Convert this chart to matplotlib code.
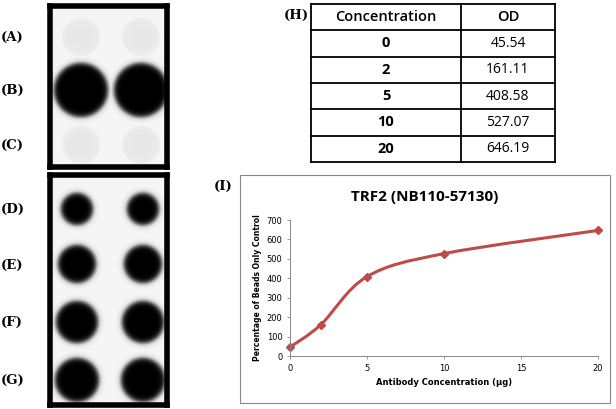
import numpy as np
import matplotlib.pyplot as plt
from matplotlib.path import Path
from matplotlib.patches import PathPatch

# dot blot: row labels, dot radius (px) and darkness
row_labels = ['(A)', '(B)', '(C)', '(D)', '(E)', '(F)', '(G)']
dot_radius = [20, 27, 20, 16, 19, 21, 22]
dot_dark = [0.09, 1.0, 0.09, 1.0, 1.0, 1.0, 1.0]

# table / chart data
concentration = [0, 2, 5, 10, 20]
od = [45.54, 161.11, 408.58, 527.07, 646.19]

W, H = 616, 409
fig = plt.figure(figsize=(W / 100, H / 100), dpi=100)
fig.patch.set_facecolor('white')

def px_axes(x0, y0, x1, y1):
    return fig.add_axes([x0 / W, 1 - y1 / H, (x1 - x0) / W, (y1 - y0) / H])

# ---- blot panels
def blot(x0, y0, x1, y1, rows_y, rows_idx, xs):
    ax = px_axes(x0, y0, x1, y1)
    w, h = x1 - x0, y1 - y0
    yy, xx = np.mgrid[0:h, 0:w] + 0.5
    img = np.full((h, w), 0.04)
    for ry, i in zip(rows_y, rows_idx):
        for cx in xs:
            d = np.hypot(xx - (cx - x0), yy - (ry - y0))
            v = dot_dark[i] / (1 + np.exp((d - dot_radius[i]) / 1.5))
            halo = 0.25 * dot_dark[i] * np.exp(-np.clip(d - dot_radius[i], 0, None) / 4)
            img = np.maximum(img, np.maximum(v, halo))
    ax.imshow(img, cmap='gray_r', vmin=0, vmax=1, interpolation='bilinear')
    ax.set_xticks([]); ax.set_yticks([])
    for s in ax.spines.values():
        s.set_linewidth(4); s.set_color('black')

blot(50, 6, 167, 167, [37, 90, 145], [0, 1, 2], [81, 141])
blot(50, 175, 167, 405, [209, 264, 322, 380], [3, 4, 5, 6], [77, 143])

label_y = [37, 90, 145, 209, 265, 322, 380]
for lab, y in zip(row_labels, label_y):
    fig.text(1 / W, 1 - y / H, lab, family='DejaVu Serif', weight='bold',
             fontsize=9.5, va='center', ha='left')

# ---- table
fig.text(284 / W, 1 - 15 / H, '(H)', family='DejaVu Serif', weight='bold',
         fontsize=9.5, va='center')
tx0, tx1, tmid, ty0, rh = 311, 555, 461, 4, 26.3
ax = px_axes(0, 0, W, H)
ax.set_xlim(0, W); ax.set_ylim(H, 0); ax.axis('off')
nrows = len(concentration) + 1
for r in range(nrows + 1):
    ax.plot([tx0, tx1], [ty0 + r * rh] * 2, color='black', lw=1.3)
for x in (tx0, tmid, tx1):
    ax.plot([x, x], [ty0, ty0 + nrows * rh], color='black', lw=1.3)
ax.text((tx0 + tmid) / 2, ty0 + rh / 2, 'Concentration', ha='center',
        va='center', fontsize=10.5, family='Open Sans', weight='semibold')
ax.text((tmid + tx1) / 2, ty0 + rh / 2, 'OD', ha='center', va='center',
        fontsize=10.5, family='Open Sans', weight='semibold')
for r, (c, v) in enumerate(zip(concentration, od), start=1):
    yc = ty0 + (r + 0.5) * rh
    ax.text((tx0 + tmid) / 2, yc, str(c), ha='center', va='center',
            fontsize=10.5, weight='bold', family='Open Sans')
    ax.text((tmid + tx1) / 2, yc, f'{v:.2f}', ha='center', va='center',
            fontsize=10, family='Open Sans')

# ---- chart frame
ax.add_patch(plt.Rectangle((240, 175), 370, 228, fill=False, ec='#888888', lw=0.8))
fig.text(214 / W, 1 - 186 / H, '(I)', family='DejaVu Serif', weight='bold',
         fontsize=9.5, va='center')
fig.text(425 / W, 1 - 197 / H, 'TRF2 (NB110-57130)', ha='center', va='center',
         fontsize=11, weight='bold', family='Open Sans')

cax = px_axes(290, 220, 598, 356)
cax.set_xlim(0, 20); cax.set_ylim(0, 700)
cax.set_xticks([0, 5, 10, 15, 20]); cax.set_yticks(range(0, 701, 100))
cax.tick_params(labelsize=6, length=2, width=0.6, color='#888888')
for s in ['top', 'right']:
    cax.spines[s].set_visible(False)
for s in ['left', 'bottom']:
    cax.spines[s].set_color('#888888'); cax.spines[s].set_linewidth(0.7)
cax.set_xlabel('Antibody Concentration (µg)', fontsize=6, weight='bold', labelpad=4)
cax.set_ylabel('Percentage of Beads Only Control', fontsize=5.5, weight='bold', labelpad=3)

# smoothed line (Catmull-Rom to Bezier), like Excel's smoothed series
x = np.array(concentration, float); y = np.array(od, float)
verts = [(x[0], y[0])]; codes = [Path.MOVETO]
for i in range(len(x) - 1):
    p0 = (x[max(i - 1, 0)], y[max(i - 1, 0)])
    p1 = (x[i], y[i]); p2 = (x[i + 1], y[i + 1])
    p3 = (x[min(i + 2, len(x) - 1)], y[min(i + 2, len(x) - 1)])
    c1 = (p1[0] + (p2[0] - p0[0]) / 6, p1[1] + (p2[1] - p0[1]) / 6)
    c2 = (p2[0] - (p3[0] - p1[0]) / 6, p2[1] - (p3[1] - p1[1]) / 6)
    verts += [c1, c2, p2]; codes += [Path.CURVE4] * 3
cax.add_patch(PathPatch(Path(verts, codes), fill=False, ec='#BE4B48', lw=2.2,
                        clip_on=False))
cax.plot(x, y, 'D', color='#BE4B48', ms=4, clip_on=False)

fig.savefig('out.png', dpi=100)
